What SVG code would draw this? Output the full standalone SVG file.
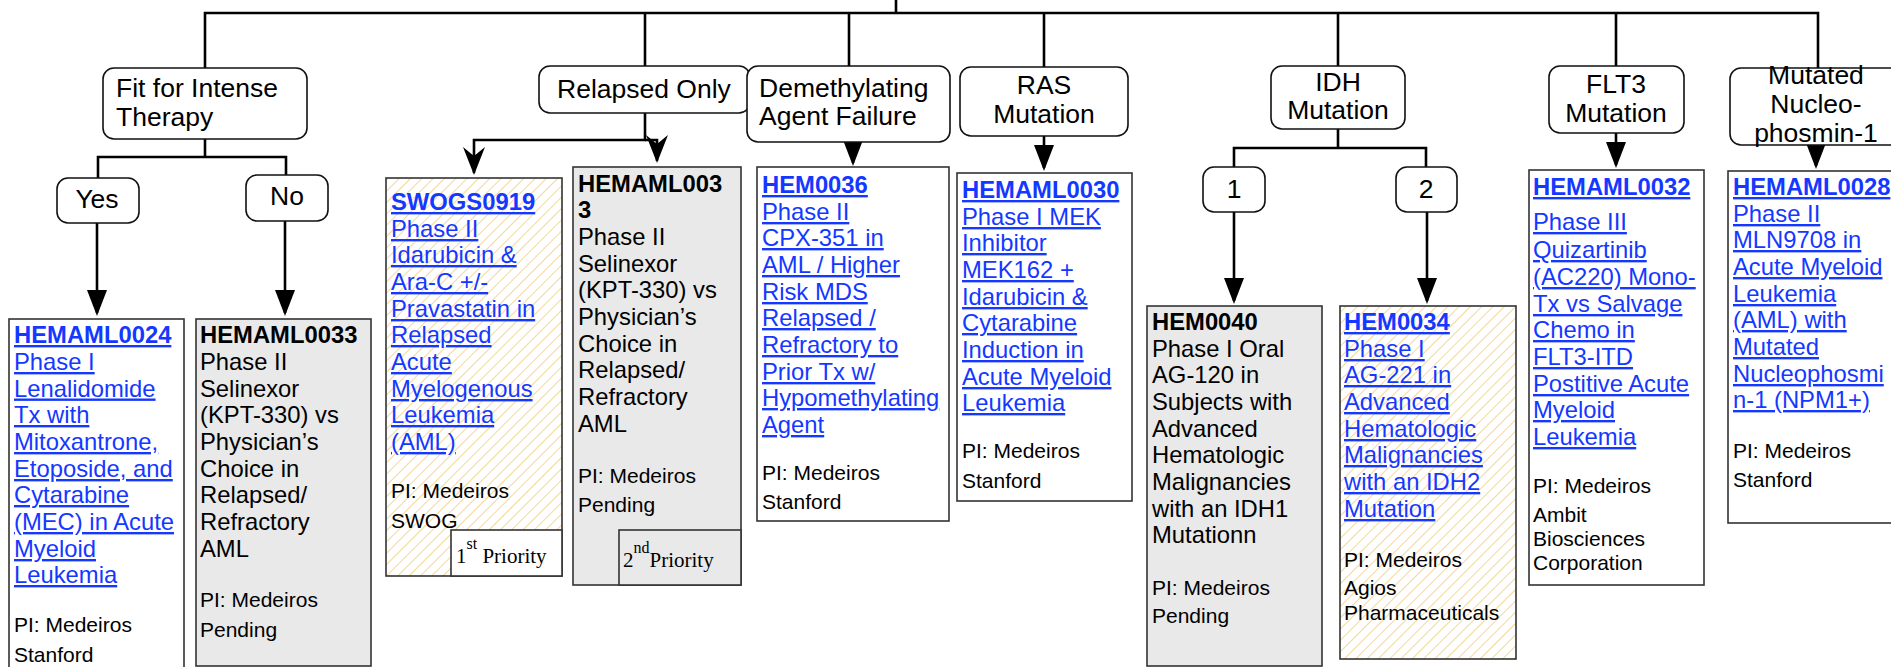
<svg xmlns="http://www.w3.org/2000/svg" width="1891" height="667" viewBox="0 0 1891 667">
<style>
.node rect.nb{fill:#fff;stroke:#111;stroke-width:1.6}
.nt{font-family:"Liberation Sans",Arial,sans-serif;font-size:26.5px;fill:#000}
.c{text-anchor:middle}
.tb{stroke:#333;stroke-width:1.6}
.wh{fill:#fff}
.gr{fill:#e9e9e9}
.ha{fill:url(#hatch)}
.t{font-family:"Liberation Sans",Arial,sans-serif;font-size:23.8px;fill:#000}
.b{font-weight:bold}
.l{fill:#1438ff;text-decoration:underline}
.pi{font-family:"Liberation Sans",Arial,sans-serif;font-size:21px;fill:#000}
.pr{font-family:"Liberation Serif","Times New Roman",serif;font-size:21px;fill:#000}
.sup{font-size:16px}
#connectors path{fill:none;stroke:#000;stroke-width:2.6}
</style>
<defs>
<pattern id="hatch" width="8" height="8" patternUnits="userSpaceOnUse" patternTransform="rotate(45)">
<rect width="8" height="8" fill="#fff"/>
<line x1="0" y1="0" x2="0" y2="8" stroke="#efc266" stroke-width="1.3"/>
</pattern>
<marker id="ah" viewBox="0 0 26 20" refX="23" refY="10" markerWidth="26" markerHeight="20" markerUnits="userSpaceOnUse" orient="auto">
<path d="M0,0 L26,10 L0,20 Z" fill="#000"/>
</marker>
<marker id="st" viewBox="0 0 28 22" refX="26" refY="11" markerWidth="28" markerHeight="22" markerUnits="userSpaceOnUse" orient="auto">
<path d="M0,0 L28,11 L0,22 L9,11 Z" fill="#000"/>
</marker>
</defs>
<rect width="1891" height="667" fill="#fff"/>

<g id="connectors">
<path d="M896,0 V13"/>
<path d="M205,68 V13 H1818 V68"/>
<path d="M645,13 V66"/>
<path d="M849,13 V66"/>
<path d="M1044,13 V67"/>
<path d="M1338,13 V66"/>
<path d="M1616,13 V66"/>
<path d="M205,139 V157 M98,178 V157 H286 V175"/>
<path d="M97,223 V313" marker-end="url(#ah)"/>
<path d="M285,221 V313" marker-end="url(#ah)"/>
<path d="M645,113 V140 H474 V173" marker-end="url(#st)"/>
<path d="M645,140 H657 V161" marker-end="url(#st)"/>
<path d="M853,142 V163" marker-end="url(#ah)"/>
<path d="M1044,136 V168" marker-end="url(#ah)"/>
<path d="M1338,129 V148 M1234,167 V148 H1426 V167"/>
<path d="M1234,212 V301" marker-end="url(#ah)"/>
<path d="M1427,212 V301" marker-end="url(#ah)"/>
<path d="M1616,133 V165" marker-end="url(#ah)"/>
<path d="M1816,145 V166" marker-end="url(#ah)"/>
</g>

<g id="n-fit" class="node"><rect class="nb" x="103" y="68" width="204" height="71" rx="11"/>
<text class="nt" x="116" y="97">Fit for Intense</text><text class="nt" x="116" y="126">Therapy</text></g>
<g id="n-yes" class="node"><rect class="nb" x="57" y="178" width="82" height="45" rx="11"/><text class="nt c" x="97" y="208">Yes</text></g>
<g id="n-no" class="node"><rect class="nb" x="246" y="175" width="82" height="46" rx="11"/><text class="nt c" x="287" y="205">No</text></g>
<g id="n-relapsed" class="node"><rect class="nb" x="539" y="66" width="211" height="47" rx="11"/><text class="nt" x="557" y="98">Relapsed Only</text></g>
<g id="n-demeth" class="node"><rect class="nb" x="747" y="66" width="203" height="76" rx="11"/>
<text class="nt" x="759" y="97">Demethylating</text><text class="nt" x="759" y="125">Agent Failure</text></g>
<g id="n-ras" class="node"><rect class="nb" x="960" y="67" width="168" height="69" rx="11"/>
<text class="nt c" x="1044" y="94">RAS</text><text class="nt c" x="1044" y="123">Mutation</text></g>
<g id="n-idh" class="node"><rect class="nb" x="1271" y="66" width="134" height="63" rx="11"/>
<text class="nt c" x="1338" y="91">IDH</text><text class="nt c" x="1338" y="119">Mutation</text></g>
<g id="n-1" class="node"><rect class="nb" x="1203" y="167" width="62" height="45" rx="11"/><text class="nt c" x="1234" y="198">1</text></g>
<g id="n-2" class="node"><rect class="nb" x="1396" y="167" width="61" height="45" rx="11"/><text class="nt c" x="1426" y="198">2</text></g>
<g id="n-flt3" class="node"><rect class="nb" x="1549" y="66" width="135" height="67" rx="11"/>
<text class="nt c" x="1616" y="93">FLT3</text><text class="nt c" x="1616" y="122">Mutation</text></g>
<g id="n-npm" class="node"><rect class="nb" x="1730" y="68" width="180" height="77" rx="11"/>
<text class="nt c" x="1816" y="84">Mutated</text><text class="nt c" x="1816" y="113">Nucleo-</text><text class="nt c" x="1816" y="142">phosmin-1</text></g>

<g id="hemaml0024"><rect class="tb wh" x="9" y="319" width="175" height="360"/>
<text class="t b l" x="14" y="343">HEMAML0024</text>
<text class="t l" x="14" y="370">Phase I</text>
<text class="t l" x="14" y="396.5">Lenalidomide</text>
<text class="t l" x="14" y="423">Tx with</text>
<text class="t l" x="14" y="450">Mitoxantrone,</text>
<text class="t l" x="14" y="477">Etoposide, and</text>
<text class="t l" x="14" y="503">Cytarabine</text>
<text class="t l" x="14" y="530">(MEC) in Acute</text>
<text class="t l" x="14" y="557">Myeloid</text>
<text class="t l" x="14" y="583">Leukemia</text>
<text class="pi" x="14" y="632">PI: Medeiros</text>
<text class="pi" x="14" y="662">Stanford</text></g>

<g id="hemaml0033a"><rect class="tb gr" x="196" y="319" width="175" height="347"/>
<text class="t b" x="200" y="343">HEMAML0033</text>
<text class="t" x="200" y="370">Phase II</text>
<text class="t" x="200" y="396.5">Selinexor</text>
<text class="t" x="200" y="423">(KPT-330) vs</text>
<text class="t" x="200" y="450">Physician’s</text>
<text class="t" x="200" y="477">Choice in</text>
<text class="t" x="200" y="503">Relapsed/</text>
<text class="t" x="200" y="530">Refractory</text>
<text class="t" x="200" y="557">AML</text>
<text class="pi" x="200" y="607">PI: Medeiros</text>
<text class="pi" x="200" y="637">Pending</text></g>

<g id="swogs0919"><rect class="tb ha" x="386" y="178" width="176" height="398"/>
<text class="t b l" x="391" y="210">SWOGS0919</text>
<text class="t l" x="391" y="237">Phase II</text>
<text class="t l" x="391" y="263">Idarubicin &amp;</text>
<text class="t l" x="391" y="290">Ara-C +/-</text>
<text class="t l" x="391" y="317">Pravastatin in</text>
<text class="t l" x="391" y="343">Relapsed</text>
<text class="t l" x="391" y="370">Acute</text>
<text class="t l" x="391" y="397">Myelogenous</text>
<text class="t l" x="391" y="423">Leukemia</text>
<text class="t l" x="391" y="450">(AML)</text>
<text class="pi" x="391" y="498">PI: Medeiros</text>
<text class="pi" x="391" y="528">SWOG</text>
<rect class="tb wh" x="451" y="530" width="111" height="46"/>
<text class="pr" x="456" y="563">1<tspan class="sup" dy="-14">st</tspan><tspan dy="14"> Priority</tspan></text></g>

<g id="hemaml0033b"><rect class="tb gr" x="573" y="167" width="168" height="418"/>
<text class="t b" x="578" y="192">HEMAML003</text>
<text class="t b" x="578" y="218">3</text>
<text class="t" x="578" y="245">Phase II</text>
<text class="t" x="578" y="272">Selinexor</text>
<text class="t" x="578" y="298">(KPT-330) vs</text>
<text class="t" x="578" y="325">Physician’s</text>
<text class="t" x="578" y="352">Choice in</text>
<text class="t" x="578" y="378">Relapsed/</text>
<text class="t" x="578" y="405">Refractory</text>
<text class="t" x="578" y="432">AML</text>
<text class="pi" x="578" y="483">PI: Medeiros</text>
<text class="pi" x="578" y="512">Pending</text>
<rect class="tb gr" x="619" y="530" width="122" height="55"/>
<text class="pr" x="623" y="567">2<tspan class="sup" dy="-14">nd</tspan><tspan dy="14">Priority</tspan></text></g>

<g id="hem0036"><rect class="tb wh" x="757" y="167" width="192" height="354"/>
<text class="t b l" x="762" y="193">HEM0036</text>
<text class="t l" x="762" y="220">Phase II</text>
<text class="t l" x="762" y="246">CPX-351 in</text>
<text class="t l" x="762" y="273">AML / Higher</text>
<text class="t l" x="762" y="300">Risk MDS</text>
<text class="t l" x="762" y="326">Relapsed /</text>
<text class="t l" x="762" y="353">Refractory to</text>
<text class="t l" x="762" y="380">Prior Tx w/</text>
<text class="t l" x="762" y="406">Hypomethylating</text>
<text class="t l" x="762" y="433">Agent</text>
<text class="pi" x="762" y="480">PI: Medeiros</text>
<text class="pi" x="762" y="509">Stanford</text></g>

<g id="hemaml0030"><rect class="tb wh" x="957" y="173" width="175" height="328"/>
<text class="t b l" x="962" y="198">HEMAML0030</text>
<text class="t l" x="962" y="225">Phase I MEK</text>
<text class="t l" x="962" y="251">Inhibitor</text>
<text class="t l" x="962" y="278">MEK162 +</text>
<text class="t l" x="962" y="305">Idarubicin &amp;</text>
<text class="t l" x="962" y="331">Cytarabine</text>
<text class="t l" x="962" y="358">Induction in</text>
<text class="t l" x="962" y="385">Acute Myeloid</text>
<text class="t l" x="962" y="411">Leukemia</text>
<text class="pi" x="962" y="458">PI: Medeiros</text>
<text class="pi" x="962" y="488">Stanford</text></g>

<g id="hem0040"><rect class="tb gr" x="1147" y="306" width="175" height="360"/>
<text class="t b" x="1152" y="330">HEM0040</text>
<text class="t" x="1152" y="357">Phase I Oral</text>
<text class="t" x="1152" y="383">AG-120 in</text>
<text class="t" x="1152" y="410">Subjects with</text>
<text class="t" x="1152" y="437">Advanced</text>
<text class="t" x="1152" y="463">Hematologic</text>
<text class="t" x="1152" y="490">Malignancies</text>
<text class="t" x="1152" y="517">with an IDH1</text>
<text class="t" x="1152" y="543">Mutationn</text>
<text class="pi" x="1152" y="595">PI: Medeiros</text>
<text class="pi" x="1152" y="623">Pending</text></g>

<g id="hem0034"><rect class="tb ha" x="1340" y="306" width="176" height="353"/>
<text class="t b l" x="1344" y="330">HEM0034</text>
<text class="t l" x="1344" y="357">Phase I</text>
<text class="t l" x="1344" y="383">AG-221 in</text>
<text class="t l" x="1344" y="410">Advanced</text>
<text class="t l" x="1344" y="437">Hematologic</text>
<text class="t l" x="1344" y="463">Malignancies</text>
<text class="t l" x="1344" y="490">with an IDH2</text>
<text class="t l" x="1344" y="517">Mutation</text>
<text class="pi" x="1344" y="567">PI: Medeiros</text>
<text class="pi" x="1344" y="595">Agios</text>
<text class="pi" x="1344" y="620">Pharmaceuticals</text></g>

<g id="hemaml0032"><rect class="tb wh" x="1529" y="170" width="175" height="415"/>
<text class="t b l" x="1533" y="195">HEMAML0032</text>
<text class="t l" x="1533" y="230">Phase III</text>
<text class="t l" x="1533" y="258">Quizartinib</text>
<text class="t l" x="1533" y="285">(AC220) Mono-</text>
<text class="t l" x="1533" y="312">Tx vs Salvage</text>
<text class="t l" x="1533" y="338">Chemo in</text>
<text class="t l" x="1533" y="365">FLT3-ITD</text>
<text class="t l" x="1533" y="392">Postitive Acute</text>
<text class="t l" x="1533" y="418">Myeloid</text>
<text class="t l" x="1533" y="445">Leukemia</text>
<text class="pi" x="1533" y="493">PI: Medeiros</text>
<text class="pi" x="1533" y="522">Ambit</text>
<text class="pi" x="1533" y="546">Biosciences</text>
<text class="pi" x="1533" y="570">Corporation</text></g>

<g id="hemaml0028"><rect class="tb wh" x="1728" y="171" width="180" height="352"/>
<text class="t b l" x="1733" y="195">HEMAML0028</text>
<text class="t l" x="1733" y="222">Phase II</text>
<text class="t l" x="1733" y="248">MLN9708 in</text>
<text class="t l" x="1733" y="275">Acute Myeloid</text>
<text class="t l" x="1733" y="302">Leukemia</text>
<text class="t l" x="1733" y="328">(AML) with</text>
<text class="t l" x="1733" y="355">Mutated</text>
<text class="t l" x="1733" y="382">Nucleophosmi</text>
<text class="t l" x="1733" y="408">n-1 (NPM1+)</text>
<text class="pi" x="1733" y="458">PI: Medeiros</text>
<text class="pi" x="1733" y="487">Stanford</text></g>
</svg>
